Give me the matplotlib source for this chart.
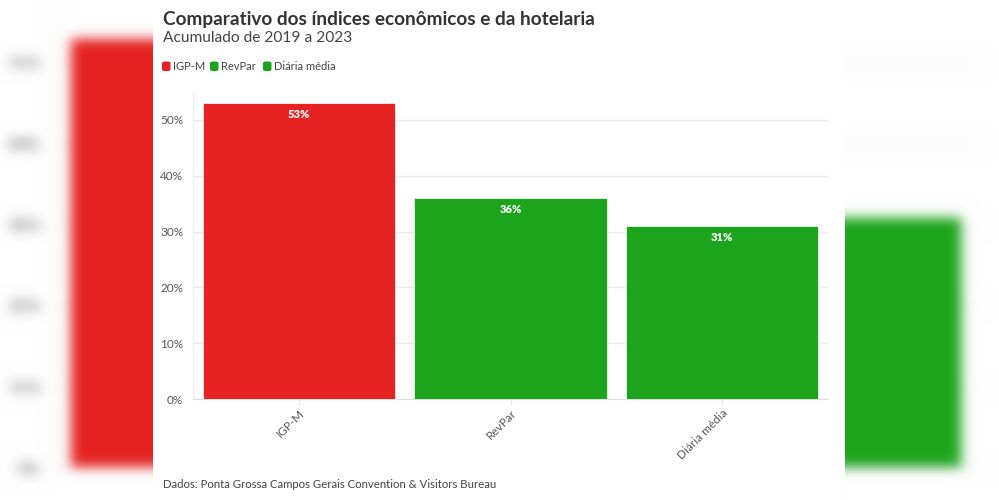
import numpy as np
import matplotlib
matplotlib.use("Agg")
import matplotlib.pyplot as plt
from matplotlib.patches import Rectangle, FancyBboxPatch

categories = ["IGP-M", "RevPar", "Diária média"]
values = [53, 36, 31]
colors = ["#e62222", "#1ca51c", "#1ca51c"]
yticks = [0, 10, 20, 30, 40, 50]
ytick_labels = ["0%", "10%", "20%", "30%", "40%", "50%"]
title = "Comparativo dos índices econômicos e da hotelaria"
subtitle = "Acumulado de 2019 a 2023"
source = "Dados: Ponta Grossa Campos Gerais Convention & Visitors Bureau"
legend_items = [("IGP-M", "#e62222"), ("RevPar", "#1ca51c"), ("Diária média", "#1ca51c")]

W, H = 999, 500
FONT = ["Lato", "DejaVu Sans"]
plt.rcParams['font.family'] = FONT


def fx(x):
    return x / W


def fy(y):
    return 1 - y / H


def draw(fig):
    ax = fig.add_axes([fx(193), fy(399), (828 - 193) / W, (399 - 92) / H])
    ax.set_zorder(2)
    ax.set_facecolor("white")
    x = np.arange(len(categories))
    ax.bar(x, values, width=0.91, color=colors, edgecolor="white", linewidth=0.5, zorder=3)
    ax.set_xlim(-0.5, 2.5)
    ax.set_ylim(0, 55)
    ax.set_yticks(yticks)
    ax.set_yticklabels(ytick_labels)
    ax.grid(axis="y", color="#ebebeb", lw=1)
    ax.set_axisbelow(True)
    for s in ["top", "right"]:
        ax.spines[s].set_visible(False)
    ax.spines["left"].set_color("#eeeeee")
    ax.spines["bottom"].set_color("#e0e0e0")
    ax.tick_params(axis="y", length=0, pad=7, labelsize=8.5, labelcolor="#555555")
    ax.tick_params(axis="x", length=4, color="#e6e6e6", pad=2, labelsize=8.5, labelcolor="#555555")
    ax.set_xticks(x)
    ax.set_xticklabels(categories, rotation=45, ha="right", va="top", rotation_mode="anchor")
    for xi, v in zip(x, values):
        ax.annotate(f"{v}%", (xi, v), xytext=(0, -4), textcoords="offset points",
                    ha="center", va="top", color="white", fontsize=8, fontweight="heavy", zorder=4)

    fig.text(fx(163), fy(20), title, fontsize=13.7, fontweight="bold", color="#333333",
             ha="left", va="center")
    fig.text(fx(163), fy(38), subtitle, fontsize=11.2, color="#444444", ha="left", va="center")
    lx = [162, 210, 263]
    for (lab, col), x0 in zip(legend_items, lx):
        p = FancyBboxPatch((fx(x0), fy(71)), 8.5 / W, 9.5 / H,
                           boxstyle="round,pad=0.0,rounding_size=0.003",
                           transform=fig.transFigure, facecolor=col, edgecolor="none")
        fig.patches.append(p)
        fig.text(fx(x0 + 11), fy(66), lab, fontsize=8, color="#444444", ha="left", va="center")
    fig.text(fx(163), fy(484), source, fontsize=8.2, color="#444444", ha="left", va="center")
    return ax


# First render: used for the blurred, enlarged backdrop
fig1 = plt.figure(figsize=(W / 100, H / 100), dpi=100)
fig1.patch.set_facecolor("white")
draw(fig1)
fig1.canvas.draw()
src = np.asarray(fig1.canvas.buffer_rgba())[..., :3].astype(float) / 255.0
plt.close(fig1)

sh, sw = src.shape[:2]
scale, cx, cy = 1.45, 499.0, 247.0
yy, xx = np.mgrid[0:sh, 0:sw]
sx = (xx - cx) / scale + cx
sy = (yy - cy) / scale + cy
sxi = np.clip(np.round(sx).astype(int), 0, sw - 1)
syi = np.clip(np.round(sy).astype(int), 0, sh - 1)
big = src[syi, sxi]


def gblur(img, sigma):
    r = int(3 * sigma)
    k = np.exp(-0.5 * (np.arange(-r, r + 1) / sigma) ** 2)
    k /= k.sum()
    pad = np.pad(img, ((r, r), (r, r), (0, 0)), mode="edge")
    out = np.apply_along_axis(lambda m: np.convolve(m, k, mode="valid"), 0, pad)
    out = np.apply_along_axis(lambda m: np.convolve(m, k, mode="valid"), 1, out)
    return out


bg = np.clip(gblur(big, 6.0), 0, 1)

fig = plt.figure(figsize=(W / 100, H / 100), dpi=100)
fig.patch.set_facecolor("white")
im = fig.figimage(bg, xo=0, yo=0, origin="upper", zorder=0)
panel = Rectangle((fx(153), 0), (845 - 153) / W, 1, transform=fig.transFigure,
                  facecolor="white", edgecolor="none", zorder=0.5)
fig.patches.append(panel)
draw(fig)
fig.savefig("out.png", dpi=100, facecolor="white")
